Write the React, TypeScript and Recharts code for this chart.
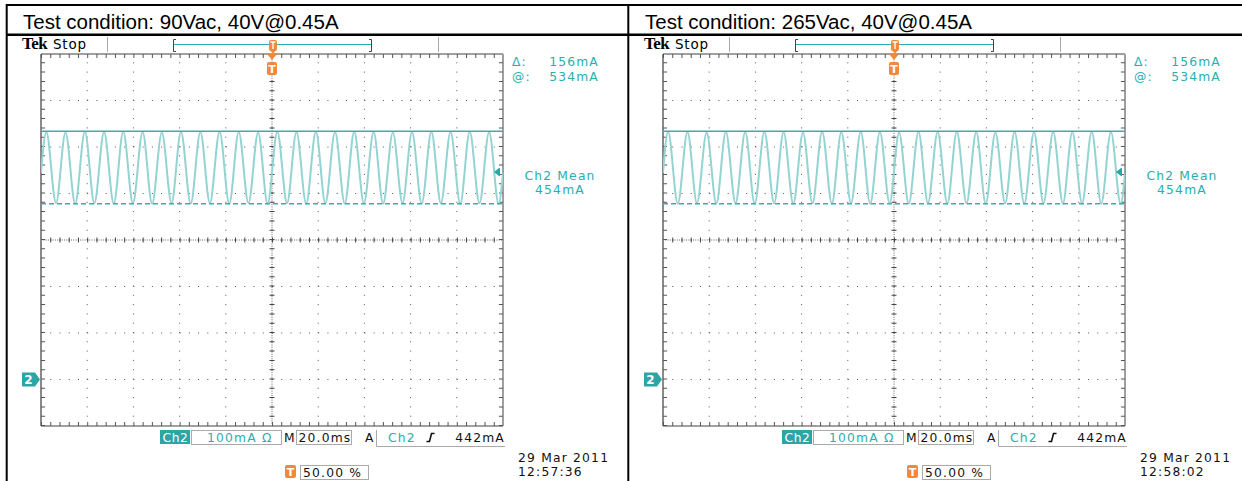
import React from 'react';
import { LineChart, Line, XAxis, YAxis, ReferenceLine, ReferenceDot } from 'recharts';

// ---------- data ----------
const xDivisions = [-100, -80, -60, -40, -20, 0, 20, 40, 60, 80, 100]; // ms (20.0ms/div)
const yDivisions = [-100, 0, 100, 200, 300, 400, 500, 600, 700]; // mA (100mA/div)

const titles = ['Test condition: 90Vac, 40V@0.45A', 'Test condition: 265Vac, 40V@0.45A'];

const time90 = [-100, -97.7, -93.5, -89.4, -85.2, -81.0, -76.9, -72.7, -68.5, -64.4, -60.2, -56.0, -51.9, -47.7, -43.5,
  -39.4, -35.2, -31.0, -26.9, -22.7, -18.5, -14.4, -10.2, -6.0, -1.9, 2.3, 6.5, 10.6, 14.8, 19.0, 23.1, 27.3, 31.5,
  35.6, 39.8, 44.0, 48.1, 52.3, 56.5, 60.6, 64.8, 69.0, 73.1, 77.3, 81.5, 85.6, 89.8, 94.0, 98.1, 100];
const current90 = [444,
  532, 379, 531, 378, 533, 379, 532, 378, 533, 379, 532, 378, 531, 379, 533, 378, 532, 379, 533, 378, 532, 379, 531, 378,
  533, 379, 532, 378, 533, 379, 532, 378, 533, 379, 532, 378, 531, 379, 532, 378, 533, 379, 532, 378, 533, 379, 532, 378,
  444];

const time265 = [-100, -97.8, -93.6, -89.4, -85.3, -81.1, -76.9, -72.8, -68.6, -64.4, -60.3, -56.1, -51.9, -47.8, -43.6,
  -39.4, -35.3, -31.1, -26.9, -22.8, -18.6, -14.4, -10.3, -6.1, -1.9, 2.2, 6.4, 10.6, 14.7, 18.9, 23.1, 27.2, 31.4,
  35.6, 39.7, 43.9, 48.1, 52.2, 56.4, 60.6, 64.7, 68.9, 73.1, 77.2, 81.4, 85.6, 89.7, 93.9, 98.1, 100];
const current265 = [445,
  533, 378, 532, 379, 531, 378, 533, 379, 532, 378, 533, 379, 532, 378, 531, 379, 533, 378, 532, 379, 533, 378, 532, 379,
  531, 378, 533, 379, 532, 378, 533, 379, 532, 378, 531, 379, 533, 378, 532, 379, 533, 378, 532, 379, 533, 378, 532, 378,
  443];

const cursorHigh = [534, 534];
const cursorLow = [378, 378];
const meanLevel = [446, 446];
const deltaLabels = ['156mA', '156mA'];
const atLabels = ['534mA', '534mA'];
const meanLabels = ['454mA', '454mA'];
const scaleLabels = ['100mA', '100mA'];
const timebaseLabels = ['20.0ms', '20.0ms'];
const triggerLabels = ['442mA', '442mA'];
const positionLabels = ['50.00 %', '50.00 %'];
const dateLabels = ['29 Mar 2011', '29 Mar 2011'];
const clockLabels = ['12:57:36', '12:58:02'];

const seriesTimes = [time90, time265];
const seriesCurrents = [current90, current265];

// ---------- styles ----------
const TEAL = '#2aaeac';
const TEAL_BOX = '#2ba6a4';
const TRACE = '#93d4d2';
const ORANGE = '#f08a3a';
const GRID = '#555';
const TEK = 'DejaVu Sans, Verdana, sans-serif';

const GroundMarker = (p: any) => {
  const { cx, cy } = p;
  return (
    <g>
      <path d={`M${cx - 19},${cy - 7} H${cx - 6} L${cx - 1},${cy} L${cx - 6},${cy + 7} H${cx - 19} Z`} fill={TEAL_BOX} />
      <text x={cx - 12.5} y={cy + 4.5} textAnchor="middle" fill="#fff" fontSize={12} fontWeight="bold" fontFamily={TEK}>2</text>
    </g>
  );
};

const MeanMarker = (p: any) => {
  const { cx, cy } = p;
  return (
    <g>
      <path d={`M${cx - 9},${cy} L${cx - 4},${cy - 4} L${cx - 4},${cy + 4} Z`} fill={TEAL_BOX} />
      <line x1={cx - 3.5} y1={cy - 4} x2={cx - 3.5} y2={cy + 4} stroke={TEAL_BOX} strokeWidth={1} />
    </g>
  );
};

const TriggerMarker = (p: any) => {
  const { cx, cy } = p;
  return (
    <g>
      <path d={`M${cx - 5},${cy} L${cx + 5},${cy} L${cx},${cy + 6} Z`} fill={ORANGE} />
      <rect x={cx - 5} y={cy + 8} width={10} height={13} rx={2} fill={ORANGE} />
      <text x={cx} y={cy + 18.5} textAnchor="middle" fill="#fff" fontSize={11} fontWeight="bold" fontFamily={TEK}>T</text>
    </g>
  );
};

function Panel({ idx, left }: { idx: number; left: number }) {
  const data = seriesTimes[idx].map((t, i) => ({ t, i: seriesCurrents[idx][i] }));
  const txt = { fontFamily: TEK, fontSize: 12.3, letterSpacing: 1.2 } as const;
  return (
    <div style={{ position: 'absolute', left, top: 0, width: 620, height: 481 }}>
      <svg width={620} height={481} style={{ position: 'absolute', left: 0, top: 0 }}>
        <text x={23} y={29} fontFamily="Liberation Sans, Arial, sans-serif" fontSize={20.5} fill="#000">{titles[idx]}</text>
        {/* Tek Stop bar */}
        <text x={22} y={49} fontFamily="Liberation Serif, serif" fontWeight="bold" fontSize={17} letterSpacing={-0.5} fill="#000">Tek</text>
        <text x={53} y={48.5} fontFamily={TEK} fontSize={13.5} letterSpacing={0.8} fill="#000">Stop</text>
        <line x1={107.5} y1={37} x2={107.5} y2={52} stroke="#aaa" />
        <line x1={438.5} y1={37} x2={438.5} y2={52} stroke="#aaa" />
        <path d="M176,39.5 H173.5 V51.5 H176" stroke="#444" fill="none" />
        <line x1={174} y1={44.5} x2={371} y2={44.5} stroke={TEAL} />
        <path d="M369,39.5 H371.5 V51.5 H369" stroke="#444" fill="none" />
        <rect x={269} y={40} width={8} height={11} rx={2} fill={ORANGE} />
        <path d="M270.5,42 H275.5 M273,42 V49" stroke="#fff" strokeWidth={1.3} />
        <path d="M270,50.5 L276,50.5 L273,53.5 Z" fill={ORANGE} />
        {/* cursor readouts */}
        <text x={512} y={66} fill={TEAL} {...txt}>Δ:</text>
        <text x={599} y={66} fill={TEAL} textAnchor="end" {...txt}>{deltaLabels[idx]}</text>
        <text x={512} y={80.5} fill={TEAL} {...txt}>@:</text>
        <text x={599} y={80.5} fill={TEAL} textAnchor="end" {...txt}>{atLabels[idx]}</text>
        <text x={560} y={180} fill={TEAL} textAnchor="middle" {...txt}>Ch2 Mean</text>
        <text x={560} y={194} fill={TEAL} textAnchor="middle" {...txt}>{meanLabels[idx]}</text>
        {/* bottom status */}
        <rect x={160} y={430} width={30} height={14} fill={TEAL_BOX} />
        <text x={175.5} y={442} fill="#fff" textAnchor="middle" fontFamily={TEK} fontSize={12.3} letterSpacing={0.6}>Ch2</text>
        <rect x={191.5} y={430.5} width={90} height={14} fill="none" stroke="#aaa" />
        <text x={207} y={442} fill={TEAL} {...txt}>{scaleLabels[idx] + ' Ω'}</text>
        <text x={284} y={442} fill="#111" {...txt}>M</text>
        <rect x={296.5} y={430.5} width={55} height={14} fill="none" stroke="#aaa" />
        <text x={298.5} y={442} fill="#111" {...txt}>{timebaseLabels[idx]}</text>
        <text x={365} y={442} fill="#111" {...txt}>A</text>
        <path d="M376.5,430 V446.5 H505" fill="none" stroke="#aaa" />
        <text x={388} y={442} fill={TEAL} {...txt}>Ch2</text>
        <path d="M426.5,441.5 H429.5 L431.5,433.5 H434.5" fill="none" stroke="#111" strokeWidth={1.6} />
        <text x={505} y={442} fill="#111" textAnchor="end" {...txt}>{triggerLabels[idx]}</text>
        <rect x={285} y={465} width={11} height={13} rx={2} fill={ORANGE} />
        <text x={290.5} y={476} fill="#fff" textAnchor="middle" fontFamily={TEK} fontSize={11} fontWeight="bold">T</text>
        <rect x={300.5} y={465.5} width={68} height={14} fill="none" stroke="#aaa" />
        <text x={303} y={477} fill="#111" {...txt}>{positionLabels[idx]}</text>
        <text x={518} y={462} fill="#111" {...txt}>{dateLabels[idx]}</text>
        <text x={518} y={475.5} fill="#111" {...txt}>{clockLabels[idx]}</text>
      </svg>
      <div style={{ position: 'absolute', left: 0, top: 0 }}>
        <LineChart width={620} height={481} data={data} margin={{ top: 54, left: 41, right: 117, bottom: 55 }}>
          <XAxis type="number" dataKey="t" domain={[-100, 100]} ticks={xDivisions} hide allowDataOverflow />
          <YAxis type="number" domain={[-100, 700]} ticks={yDivisions} hide allowDataOverflow />
          {/* dotted graticule */}
          {xDivisions.slice(1, -1).map((x) => (
            <ReferenceLine key={'gx' + x} x={x} stroke={GRID} strokeDasharray="1 8.3" />
          ))}
          {yDivisions.slice(1, -1).map((y) => (
            <ReferenceLine key={'gy' + y} y={y} stroke={GRID} strokeDasharray="1 8.24" />
          ))}
          {/* center lines with minor ticks */}
          <ReferenceLine x={0} stroke="#666" strokeDasharray="1 1.3" />
          <ReferenceLine x={0} stroke="#444" strokeWidth={5} strokeDasharray="1 8.3" />
          <ReferenceLine y={300} stroke="#666" strokeDasharray="1 1.3" />
          <ReferenceLine y={300} stroke="#444" strokeWidth={5} strokeDasharray="1 8.24" />
          {/* frame */}
          <ReferenceLine x={-100} stroke="#8a8a8a" strokeWidth={2} />
          <ReferenceLine x={100} stroke="#a0a0a0" strokeWidth={2} />
          <ReferenceLine y={700} stroke="#a0a0a0" strokeWidth={2} />
          <ReferenceLine y={-100} stroke="#a0a0a0" strokeWidth={2} />
          <ReferenceLine x={-99.1} stroke="#555" strokeWidth={4} strokeDasharray="1 8.3" />
          <ReferenceLine x={99.1} stroke="#555" strokeWidth={4} strokeDasharray="1 8.3" />
          <ReferenceLine y={695.7} stroke="#555" strokeWidth={4} strokeDasharray="1 8.24" />
          <ReferenceLine y={-95.7} stroke="#555" strokeWidth={4} strokeDasharray="1 8.24" />
          {/* waveform */}
          <Line type="monotone" dataKey="i" stroke={TRACE} strokeWidth={2} dot={false} isAnimationActive={false} />
          {/* cursors */}
          <ReferenceLine y={cursorHigh[idx]} stroke="#45aba8" strokeWidth={1.5} />
          <ReferenceLine y={cursorLow[idx]} stroke="#45aba8" strokeWidth={1.5} strokeDasharray="5 3" />
          <ReferenceDot x={-100} y={0} r={0} shape={GroundMarker} />
          <ReferenceDot x={100} y={meanLevel[idx]} r={0} shape={MeanMarker} />
          <ReferenceDot x={0} y={700} r={0} shape={TriggerMarker} />
        </LineChart>
      </div>
    </div>
  );
}

export default function App() {
  return (
    <div style={{ position: 'fixed', left: 0, top: 0, width: 1242, height: 481, background: '#fff', overflow: 'hidden' }}>
      <svg width={1242} height={481} style={{ position: 'absolute', left: 0, top: 0 }}>
        <line x1={6} y1={5} x2={1242} y2={5} stroke="#000" strokeWidth={2} />
        <line x1={6} y1={34.7} x2={1242} y2={34.7} stroke="#000" strokeWidth={2.5} />
        <line x1={6.7} y1={4} x2={6.7} y2={481} stroke="#000" strokeWidth={2} />
        <line x1={628.3} y1={4} x2={628.3} y2={481} stroke="#000" strokeWidth={2} />
      </svg>
      <Panel idx={0} left={0} />
      <Panel idx={1} left={622} />
    </div>
  );
}
